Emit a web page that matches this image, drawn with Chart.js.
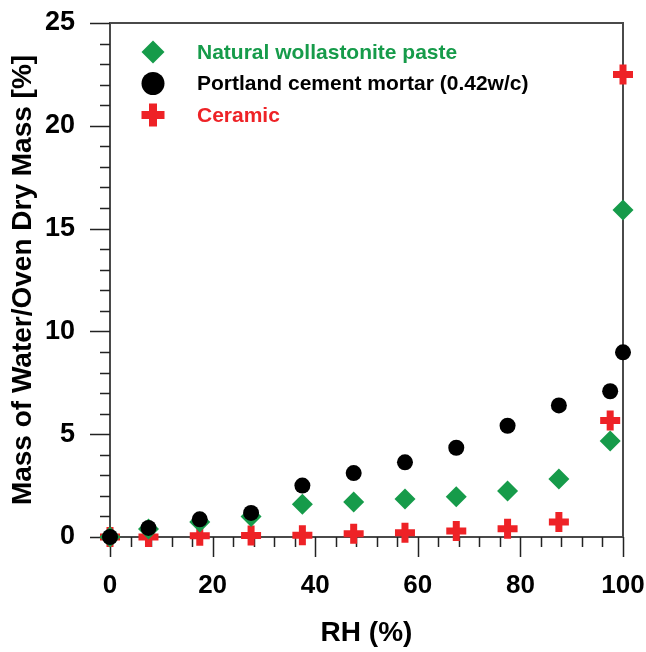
<!DOCTYPE html>
<html>
<head>
<meta charset="utf-8">
<script src="https://cdn.jsdelivr.net/npm/chart.js@4/dist/chart.umd.min.js"></script>
<style>
  html, body { margin: 0; padding: 0; background: #fff; }
  #wrap { width: 646px; height: 652px; }
</style>
</head>
<body>
<div id="wrap"><canvas id="chart"></canvas></div>
<script>
// RH (%) values measured for each series
const rh = [0, 7.5, 17.5, 27.5, 37.5, 47.5, 57.5, 67.5, 77.5, 87.5, 97.5, 100];
const wollastonite = [0, 0.39, 0.73, 1.0, 1.59, 1.70, 1.85, 1.96, 2.24, 2.82, 4.67, 15.9];
const mortar = [0, 0.44, 0.86, 1.17, 2.5, 3.11, 3.63, 4.34, 5.41, 6.4, 7.09, 8.98];
const ceramic = [0, 0, 0.06, 0.07, 0.08, 0.16, 0.21, 0.29, 0.4, 0.73, 5.67, 22.5];

const xTicks = [0, 20, 40, 60, 80, 100];
const yTicks = [0, 5, 10, 15, 20, 25];

const GREEN = '#169b4a';
const RED = '#ee2226';
const FONT = '"Liberation Sans", Arial, sans-serif';

function points(ys) {
  return rh.map((x, i) => ({x: x, y: ys[i]}));
}

// axis frame + major/minor tick marks, drawn from the scales
const frameTicks = {
  id: 'frameTicks',
  beforeDatasetsDraw(chart) {
    const ctx = chart.ctx;
    const a = chart.chartArea;
    const xs = chart.scales.x, ys = chart.scales.y;
    ctx.save();
    ctx.strokeStyle = '#4a4a4a';
    ctx.lineWidth = 2;
    ctx.strokeRect(a.left, a.top, a.right - a.left, a.bottom - a.top);
    ctx.strokeStyle = '#222';
    ctx.lineWidth = 1.5;
    ctx.beginPath();
    for (let v = 0; v <= 100; v += 4) {
      const px = Math.round(xs.getPixelForValue(v)) + 0.5;
      const len = (v % 20 === 0) ? 20 : 10;
      ctx.moveTo(px, a.bottom);
      ctx.lineTo(px, a.bottom + len);
    }
    for (let v = 0; v <= 25; v += 1) {
      const py = Math.round(ys.getPixelForValue(v)) + 0.5;
      const len = (v % 5 === 0) ? 20 : 10;
      ctx.moveTo(a.left, py);
      ctx.lineTo(a.left - len, py);
    }
    ctx.stroke();
    ctx.restore();
  }
};

// legend inside the plot, top-left
const insideLegend = {
  id: 'insideLegend',
  afterDraw(chart) {
    const ctx = chart.ctx;
    const a = chart.chartArea;
    const mx = a.left + 43, tx = a.left + 87;
    let y = a.top + 29;
    ctx.save();
    ctx.font = 'bold 21px ' + FONT;
    ctx.textBaseline = 'middle';
    chart.data.datasets.forEach(ds => {
      const r = 11.5;
      ctx.fillStyle = ds.backgroundColor;
      ctx.strokeStyle = ds.borderColor;
      if (ds.pointStyle === 'rectRot') {
        ctx.beginPath();
        ctx.moveTo(mx, y - r); ctx.lineTo(mx + r, y);
        ctx.lineTo(mx, y + r); ctx.lineTo(mx - r, y);
        ctx.closePath(); ctx.fill();
      } else if (ds.pointStyle === 'circle') {
        ctx.beginPath(); ctx.arc(mx, y, r, 0, Math.PI * 2); ctx.fill();
      } else {
        ctx.lineWidth = 8;
        ctx.beginPath();
        ctx.moveTo(mx - r, y); ctx.lineTo(mx + r, y);
        ctx.moveTo(mx, y - r); ctx.lineTo(mx, y + r);
        ctx.stroke();
      }
      ctx.fillStyle = ds.textColor;
      ctx.fillText(ds.label, tx, y + 1);
      y += 31.5;
    });
    ctx.restore();
  }
};

new Chart(document.getElementById('chart'), {
  type: 'scatter',
  data: {
    datasets: [
      {
        label: 'Natural wollastonite paste',
        data: points(wollastonite),
        pointStyle: 'rectRot',
        pointRadius: 10.5,
        backgroundColor: GREEN,
        borderColor: GREEN,
        borderWidth: 0,
        textColor: GREEN,
        order: 1,
        clip: false
      },
      {
        label: 'Portland cement mortar (0.42w/c)',
        data: points(mortar),
        pointStyle: 'circle',
        pointRadius: 8,
        backgroundColor: '#000',
        borderColor: '#000',
        borderWidth: 0,
        textColor: '#000',
        order: 0,
        clip: false
      },
      {
        label: 'Ceramic',
        data: points(ceramic),
        pointStyle: 'cross',
        pointRadius: 10,
        backgroundColor: RED,
        borderColor: RED,
        borderWidth: 7,
        textColor: RED,
        order: 2,
        clip: false
      }
    ]
  },
  options: {
    responsive: true,
    maintainAspectRatio: false,
    animation: false,
    devicePixelRatio: 1,
    layout: { padding: { top: 23, right: 23, left: 0, bottom: 0 } },
    plugins: {
      legend: { display: false },
      tooltip: { enabled: false }
    },
    scales: {
      x: {
        type: 'linear',
        min: 0, max: 100,
        afterBuildTicks: s => { s.ticks = xTicks.map(v => ({value: v})); },
        afterFit: s => { s.height = 115; s.paddingLeft = 0; s.paddingRight = 0; },
        grid: { display: false, drawTicks: false },
        border: { display: false },
        ticks: { padding: 33, color: '#000', font: { family: FONT, size: 26, weight: 'bold' } },
        title: {
          display: true, text: 'RH (%)', color: '#000',
          font: { family: FONT, size: 28, weight: 'bold' },
          padding: { top: 0, bottom: 2 }
        }
      },
      y: {
        type: 'linear',
        min: 0, max: 25,
        afterBuildTicks: s => { s.ticks = yTicks.map(v => ({value: v})); },
        afterFit: s => { s.width = 110; s.paddingTop = 0; s.paddingBottom = 0; },
        grid: { display: false, drawTicks: false },
        border: { display: false },
        ticks: { padding: 35, color: '#000', font: { family: FONT, size: 27, weight: 'bold' } },
        title: {
          display: true, text: 'Mass of Water/Oven Dry Mass [%]', color: '#000',
          font: { family: FONT, size: 28, weight: 'bold' },
          padding: { top: 6, bottom: 0 }
        }
      }
    }
  },
  plugins: [frameTicks, insideLegend]
});
</script>
</body>
</html>
